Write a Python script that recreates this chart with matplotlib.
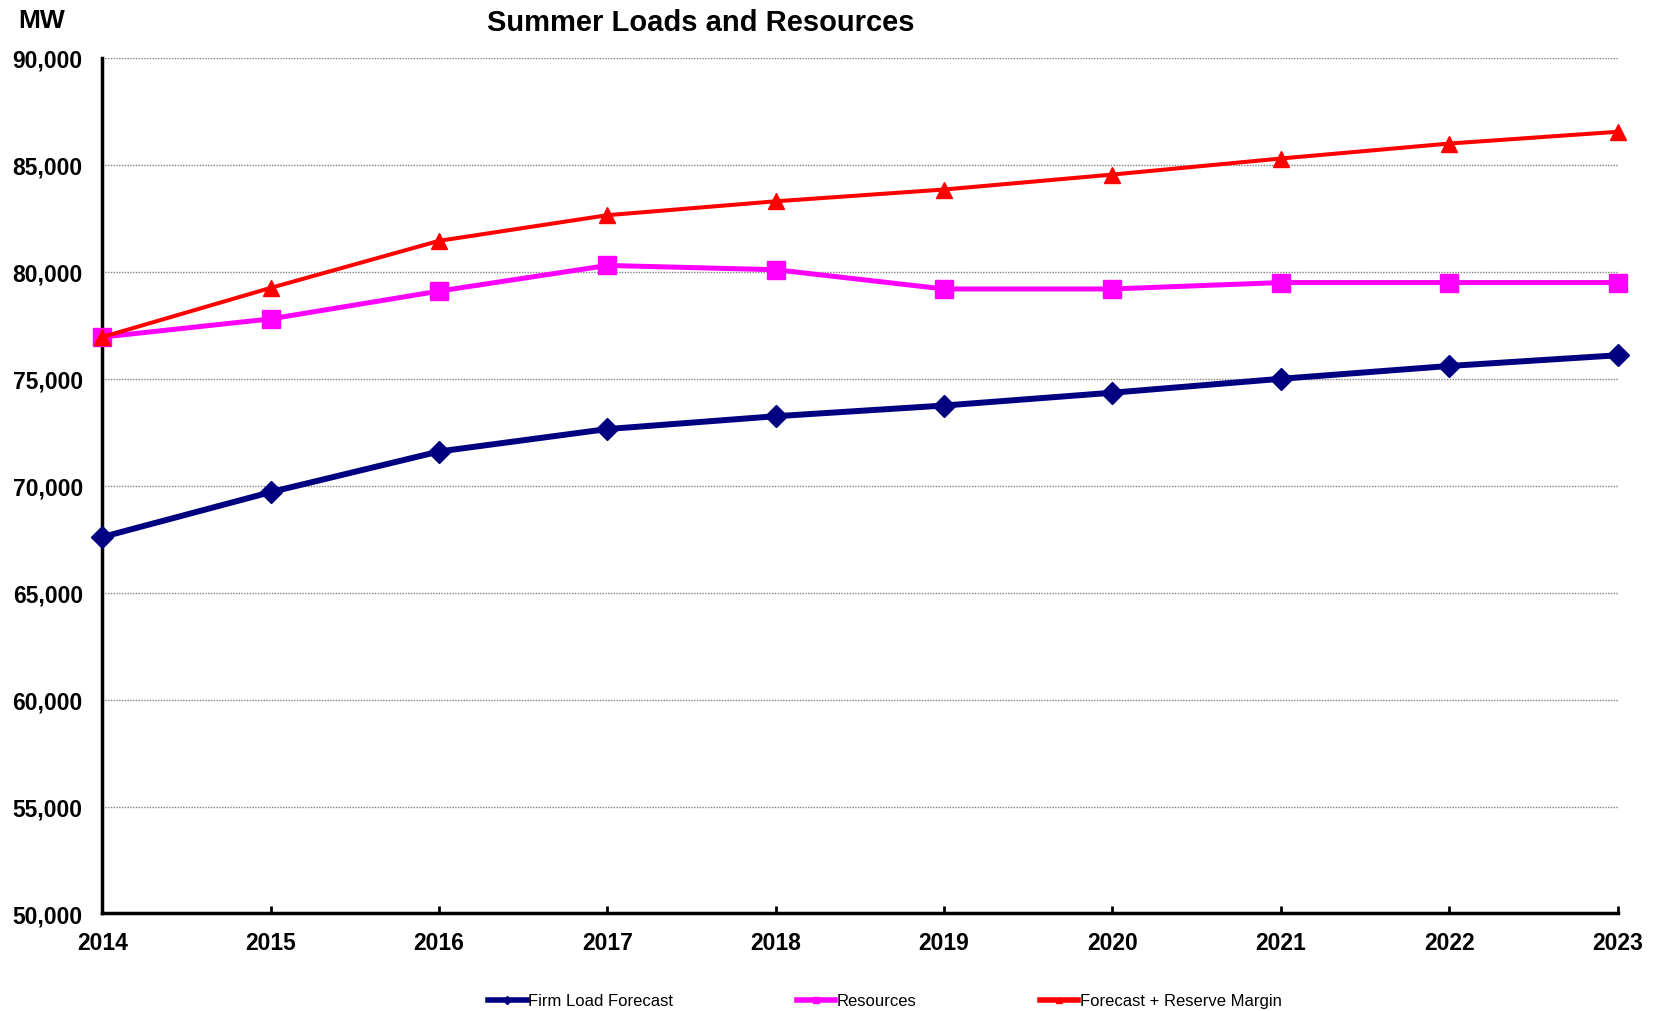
import matplotlib.pyplot as plt
from matplotlib.ticker import FuncFormatter

# Datos
years = [2014, 2015, 2016, 2017, 2018, 2019, 2020, 2021, 2022, 2023]
firm_load = [67600, 69700, 71600, 72650, 73250, 73750, 74350, 75000, 75600, 76100]
resources = [76950, 77800, 79100, 80300, 80100, 79200, 79200, 79500, 79500, 79500]
reserve = [76950, 79250, 81450, 82650, 83300, 83850, 84550, 85300, 86000, 86550]
yticks = list(range(50000, 90001, 5000))

plt.rcParams['font.family'] = ['Liberation Sans', 'DejaVu Sans']

fig = plt.figure(figsize=(16.54, 10.12), dpi=100)
ax = fig.add_axes([0.0618, 0.0964, 0.9162, 0.8453])

ax.plot(years, firm_load, color='#000080', lw=4.3, marker='D', ms=11,
        label='Firm Load Forecast', zorder=3, clip_on=False)
ax.plot(years, resources, color='#FF00FF', lw=3.6, marker='s', ms=12.5,
        label='Resources', zorder=4, clip_on=False)
ax.plot(years, reserve, color='#FF0000', lw=2.9, marker='^', ms=11,
        label='Forecast + Reserve Margin', zorder=5, clip_on=False)

ax.set_xlim(2014, 2023)
ax.set_ylim(50000, 90000)
ax.set_xticks(years)
ax.set_yticks(yticks)
ax.yaxis.set_major_formatter(FuncFormatter(lambda v, p: f'{int(v):,}'))
ax.grid(axis='y', color='#808080', linestyle=(0, (1, 1)), lw=1.0, zorder=1)

for s in ['top', 'right']:
    ax.spines[s].set_visible(False)
for s in ['left', 'bottom']:
    ax.spines[s].set_linewidth(2.5)

ax.tick_params(axis='x', direction='in', length=5, width=2, pad=13, labelsize=16.5)
ax.tick_params(axis='y', length=0, pad=14, labelsize=16.5)
for lbl in ax.get_xticklabels() + ax.get_yticklabels():
    lbl.set_fontweight('bold')

fig.text(0.4238, 0.977, 'Summer Loads and Resources', ha='center', va='center',
         fontsize=21, fontweight='bold')
fig.text(0.0254, 0.979, 'MW', ha='center', va='center', fontsize=19, fontweight='bold')

leg = fig.legend(loc='center', bbox_to_anchor=(0.535, 0.010), ncol=3, frameon=False,
                 fontsize=12, columnspacing=7.4, handlelength=2.3, handletextpad=0.1,
                 markerscale=0.35)
for h in leg.get_lines():
    h.set_linewidth(4)

fig.savefig('out.png', dpi=100)
